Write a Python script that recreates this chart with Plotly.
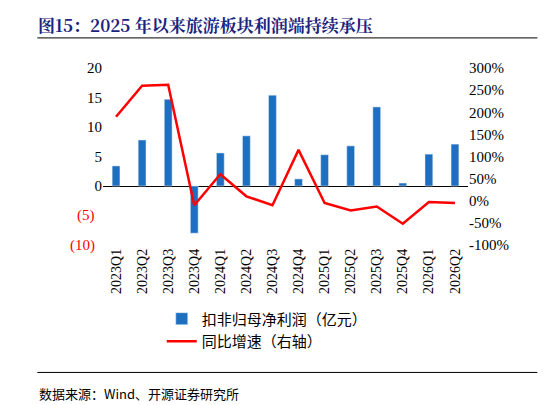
import plotly.graph_objects as go

quarters = ["2023Q1", "2023Q2", "2023Q3", "2023Q4", "2024Q1", "2024Q2", "2024Q3",
            "2024Q4", "2025Q1", "2025Q2", "2025Q3", "2025Q4", "2026Q1", "2026Q2"]
profit = [3.4, 7.8, 14.7, -8.0, 5.6, 8.5, 15.4, 1.2, 5.3, 6.8, 13.4, 0.5, 5.4, 7.1]
yoy = [1.90, 2.60, 2.62, -0.10, 0.60, 0.10, -0.10, 1.15, -0.05, -0.22, -0.13, -0.52, -0.03, -0.05]

left_vals = [-10, -5, 0, 5, 10, 15, 20]
left_text = ["(10)", "(5)", "0", "5", "10", "15", "20"]
right_vals = [-1, -0.5, 0, 0.5, 1, 1.5, 2, 2.5, 3]
right_text = ["-100%", "-50%", "0%", "50%", "100%", "150%", "200%", "250%", "300%"]

font = "Times New Roman, Liberation Serif, Noto Sans CJK SC"

fig = go.Figure()
fig.add_trace(go.Bar(x=quarters, y=profit, name="扣非归母净利润（亿元）",
                     marker_color="#1f6fc0", width=0.3))
fig.add_trace(go.Scatter(x=quarters, y=yoy, name="同比增速（右轴）", yaxis="y2",
                         mode="lines", line=dict(color="#ff0000", width=2.5)))

fig.update_layout(
    width=546, height=405, plot_bgcolor="white", paper_bgcolor="white",
    margin=dict(l=95, r=86, t=60, b=168),
    font=dict(family=font, size=15, color="black"),
    title=dict(text="<b>图15：2025 年以来旅游板块利润端持续承压</b>", x=0.055, y=0.97,
               xanchor="left", font=dict(size=17, color="#1a237e", family="Noto Serif CJK SC, Noto Sans CJK SC")),
    xaxis=dict(tickangle=-90, showline=False, ticks="", anchor="free", position=0.0,
               tickfont=dict(size=14)),
    yaxis=dict(range=[-10, 20], tickvals=left_vals[2:], ticktext=left_text[2:], showgrid=False,
               zeroline=True, zerolinecolor="black", zerolinewidth=1, ticks=""),
    yaxis2=dict(range=[-1, 3], tickvals=right_vals, ticktext=right_text, overlaying="y",
                side="right", showgrid=False, zeroline=False, ticks=""),
    legend=dict(orientation="h", x=0.45, xanchor="center", y=-0.48, yanchor="middle",
                font=dict(size=15, family="Noto Sans CJK SC")),
    showlegend=True,
)
# red negative tick labels on the left axis
for v, t in zip(left_vals[:2], left_text[:2]):
    fig.add_annotation(x=0, xref="paper", xanchor="right", xshift=-6, y=v, yref="y",
                       text=t, showarrow=False, font=dict(color="#ff0000", size=15, family=font))

fig.add_shape(type="line", xref="paper", yref="paper", x0=-0.18, x1=1.19, y0=1.17, y1=1.17,
              line=dict(color="black", width=1))
fig.add_shape(type="line", xref="paper", yref="paper", x0=-0.18, x1=1.19, y0=-0.72, y1=-0.72,
              line=dict(color="black", width=1))
fig.add_annotation(text="数据来源：Wind、开源证券研究所", xref="paper", yref="paper",
                   x=-0.18, y=-0.84, xanchor="left", yanchor="middle", showarrow=False,
                   font=dict(size=13, family="Noto Sans CJK SC"))

fig.write_html("out.html")
